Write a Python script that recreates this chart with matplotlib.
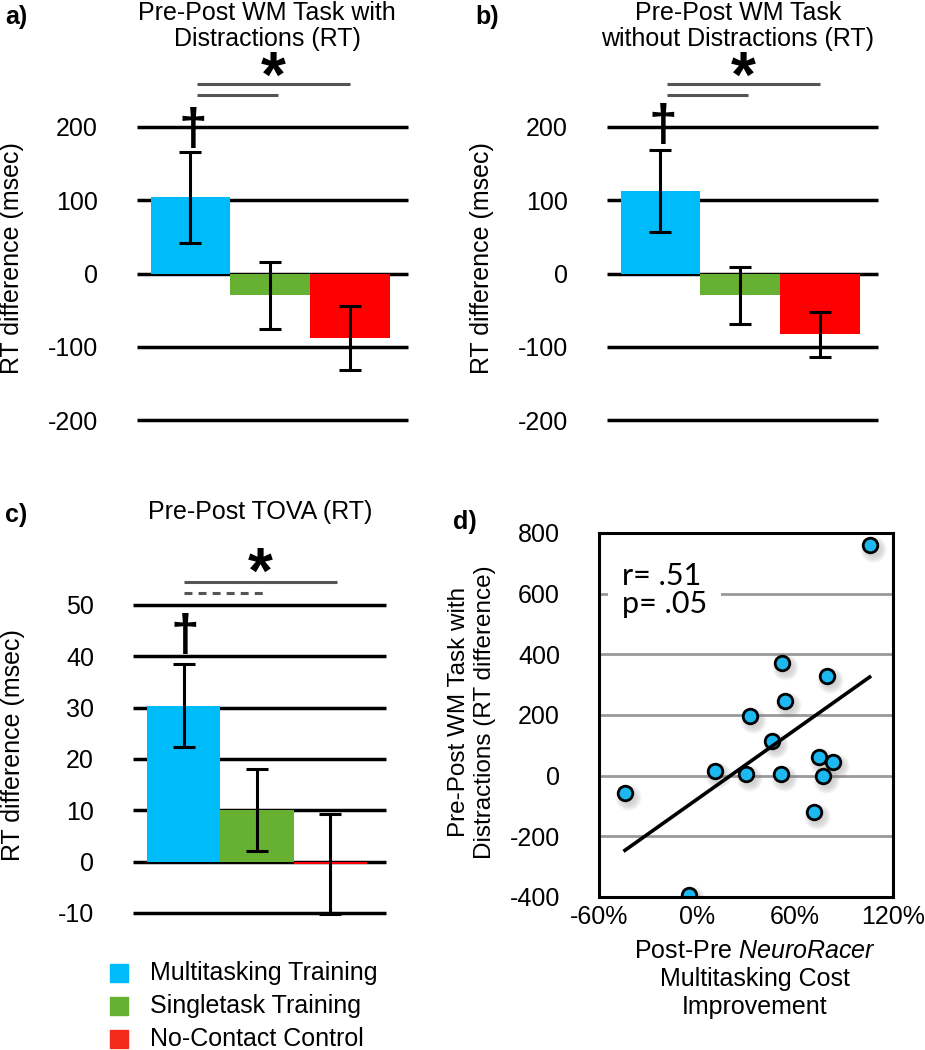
# coding=utf-8
"""
Multitasking training: RT differences (a-c) and correlation with NeuroRacer cost (d).
"""

import numpy as np
import matplotlib.pyplot as plt
from matplotlib.patches import Rectangle
from matplotlib import transforms

plt.rcParams['font.family'] = ['Liberation Sans', 'DejaVu Sans']
plt.rcParams['mathtext.fontset'] = 'custom'
plt.rcParams['mathtext.it'] = 'Liberation Sans:italic'
plt.rcParams['mathtext.rm'] = 'Liberation Sans'
plt.rcParams['axes.unicode_minus'] = False

# Datos
groups = ['Multitasking Training', 'Singletask Training', 'No-Contact Control']
colors = ['#00BBF9', '#66B032', '#FF0000']
legend_colors = ['#00BBF9', '#66B032', '#F52A1A']

# a) WM task with distractions
rt_dist = [104, -30, -88]
rt_dist_err = [62, 46, 44]
# b) WM task without distractions
rt_nodist = [113, -30, -83]
rt_nodist_err = [56, 39, 31]
# c) TOVA
rt_tova = [30.4, 10.0, -0.5]
rt_tova_err = [8.1, 8.0, 9.7]

# d) NeuroRacer cost improvement (%) vs RT difference (msec)
cost_impr = [105.7, 52.3, 79.6, 54.1, 32.7, 46.0, 74.7, 83.3, 11.1, 30.3,
             51.7, 77.2, 71.7, -44.1, -5.2]
rt_change = [761, 370, 330, 247, 198, 114, 62, 45, 15, 7,
             4, 0, -120, -57, -395]
d_xticks = [-60, 0, 60, 120]
d_xticklabels = ['-60%', '0%', '60%', '120%']
d_yticks = [-400, -200, 0, 200, 400, 600, 800]

W, H = 925, 1050
FS = 18


def box(l, t, r, b):
    return [l / W, 1 - b / H, (r - l) / W, (b - t) / H]


def fxy(x, y):
    return x / W, 1 - y / H


def bar_panel(ax, vals, errs, yticks, xlim, ylim):
    x = np.arange(len(vals))
    ax.hlines(yticks, xlim[0], xlim[1], color='black', lw=2.5, zorder=1,
              clip_on=False)
    ax.bar(x, vals, width=1.0, color=colors, zorder=2)
    eb = ax.errorbar(x, vals, yerr=errs, fmt='none', ecolor='black',
                     elinewidth=2.2, capsize=8, capthick=2.2, zorder=3)
    for art in eb.lines[1] + eb.lines[2]:
        art.set_clip_on(False)
    ax.set_xlim(xlim)
    ax.set_ylim(ylim)
    ax.set_yticks(yticks)
    ax.set_xticks([])
    ax.tick_params(axis='y', length=0, pad=28, labelsize=FS)
    for s in ax.spines.values():
        s.set_visible(False)


def sig(ax, x0, x1, y, **kw):
    ax.plot([x0, x1], [y, y], color='#555555', lw=2.2, clip_on=False,
            solid_capstyle='butt', **kw)


def star(ax, x, y):
    ax.text(x, y, '*', ha='center', va='baseline', fontsize=46,
            fontweight='bold', clip_on=False)


def dagger(ax, x, y):
    ax.text(x, y, u'\u2020', ha='center', va='center', fontsize=37,
            fontweight='bold', clip_on=False)


fig = plt.figure(figsize=(W / 100, H / 100), dpi=100)

# Panel a
ax_a = fig.add_axes(box(137, 127, 408, 420))
bar_panel(ax_a, rt_dist, rt_dist_err, [-200, -100, 0, 100, 200],
          (-0.67, 2.73), (-200, 200))
sig(ax_a, 0.08, 2.0, 259)
sig(ax_a, 0.08, 1.1, 244)
star(ax_a, 1.04, 241)
dagger(ax_a, 0.03, 194)

# Panel b
ax_b = fig.add_axes(box(607, 127, 878, 420))
bar_panel(ax_b, rt_nodist, rt_nodist_err, [-200, -100, 0, 100, 200],
          (-0.67, 2.73), (-200, 200))
sig(ax_b, 0.08, 2.0, 259)
sig(ax_b, 0.08, 1.1, 244)
star(ax_b, 1.04, 241)
dagger(ax_b, 0.03, 200)

# Panel c
ax_c = fig.add_axes(box(133, 605, 386, 913))
bar_panel(ax_c, rt_tova, rt_tova_err, [-10, 0, 10, 20, 30, 40, 50],
          (-0.69, 2.76), (-10, 50))
sig(ax_c, 0.0, 2.09, 54.5)
sig(ax_c, 0.0, 1.11, 52.3, dashes=(2.6, 2))
star(ax_c, 1.04, 52.3)
dagger(ax_c, 0.02, 43.6)

# Panel d
ax_d = fig.add_axes(box(599, 533, 893, 897))
ax_d.set_xlim(-60, 120)
ax_d.set_ylim(-400, 800)
for yv in d_yticks[1:-1]:
    ax_d.axhline(yv, color='#999999', lw=2, zorder=1)
x = np.array(cost_impr)
y = np.array(rt_change)
for k in range(5):
    sh = transforms.offset_copy(ax_d.transData, fig=fig, x=3, y=-4,
                                units='dots')
    ax_d.scatter(x, y, s=110 + 60 * k, color='#777777', alpha=0.07,
                 lw=0, transform=sh, zorder=2)
ax_d.scatter(x, y, s=110, color='#1EB8F0', edgecolor='black', lw=2,
             zorder=4)
m, b = np.polyfit(x, y, 1)
xf = np.array([x.min(), x.max()])
ax_d.plot(xf, m * xf + b, color='black', lw=2.6, zorder=5)
ax_d.text(0.078, 0.843, 'r= .51\np= .05', transform=ax_d.transAxes,
          ha='left', va='center', fontsize=22, family='Lato',
          linespacing=1.0, zorder=3,
          bbox=dict(facecolor='white', edgecolor='none', pad=10))
ax_d.set_xticks(d_xticks)
ax_d.set_xticklabels(d_xticklabels)
ax_d.set_yticks(d_yticks)
ax_d.tick_params(axis='y', length=0, pad=28, labelsize=FS)
ax_d.tick_params(axis='x', length=0, pad=6, labelsize=FS)
for s in ax_d.spines.values():
    s.set_linewidth(2.2)
    s.set_zorder(6)

# Títulos y etiquetas
fig.text(*fxy(267, 26), 'Pre-Post WM Task with\nDistractions (RT)',
         ha='center', va='center', fontsize=FS, linespacing=1.12)
fig.text(*fxy(738, 26), 'Pre-Post WM Task\nwithout Distractions (RT)',
         ha='center', va='center', fontsize=FS, linespacing=1.12)
fig.text(*fxy(260, 512), 'Pre-Post TOVA (RT)', ha='center', va='center',
         fontsize=FS)
for lx, ly in [(12, 258), (482, 258), (13, 745)]:
    fig.text(*fxy(lx, ly), 'RT difference (msec)', rotation=90,
             ha='center', va='center', fontsize=FS)
fig.text(*fxy(472, 712), 'Pre-Post WM Task with\nDistractions (RT difference)',
         rotation=90, ha='center', va='center', fontsize=17.5,
         linespacing=1.2)
fig.text(*fxy(755, 979),
         'Post-Pre $\\mathit{NeuroRacer}$\nMultitasking Cost\nImprovement',
         ha='center', va='center', fontsize=FS, linespacing=1.23)
for lab, lx, ly in [('a)', 5, 17), ('b)', 475, 17), ('c)', 5, 515),
                    ('d)', 453, 522)]:
    fig.text(*fxy(lx, ly), lab, ha='left', va='center', fontsize=FS,
             fontweight='bold')

# Leyenda
for i, (g, c) in enumerate(zip(groups, legend_colors)):
    yc = 973 + 33 * i
    x0, y0 = fxy(110, yc + 9)
    fig.patches.append(Rectangle((x0, y0), 18 / W, 18 / H, color=c,
                                 transform=fig.transFigure, figure=fig))
    fig.text(*fxy(150, yc), g, ha='left', va='center', fontsize=FS)

fig.savefig('out.png', dpi=100)
